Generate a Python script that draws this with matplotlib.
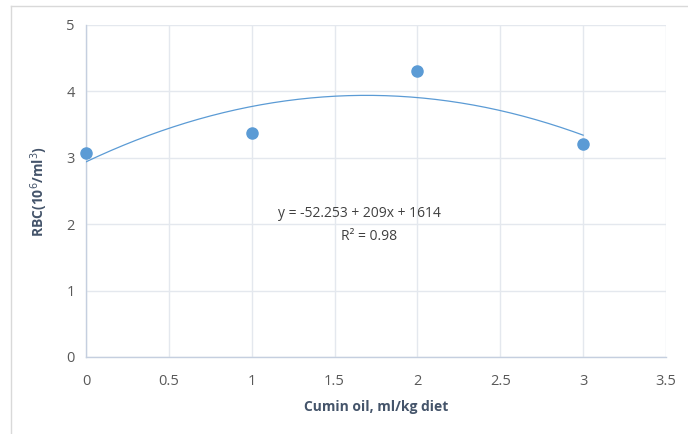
import matplotlib
matplotlib.use("Agg")
import matplotlib.pyplot as plt
import numpy as np
from matplotlib.lines import Line2D

x_vals = [0, 1, 2, 3]
rbc = [3.07, 3.38, 4.30, 3.21]
x_ticks = [0, 0.5, 1, 1.5, 2, 2.5, 3, 3.5]
y_ticks = [0, 1, 2, 3, 4, 5]
eq_text = "y = -52.253 + 209x + 1614"
r2_text = "R² = 0.98"

plt.rcParams['font.family'] = ['Open Sans', 'DejaVu Sans']

fig = plt.figure(figsize=(6.88, 4.34), dpi=100)
bx = 10.5 / 688
by = (434 - 5.5) / 434
fig.lines.append(Line2D([bx, bx], [0, by], transform=fig.transFigure, color='#d9d9d9', linewidth=1))
fig.lines.append(Line2D([bx, 1], [by, by], transform=fig.transFigure, color='#d9d9d9', linewidth=1))
ax = fig.add_axes([86/688, (434-357)/434, 580/688, 332/434])

blue = '#5b9bd5'
coef = np.polyfit(x_vals, rbc, 2)
xs = np.linspace(0, 3, 200)
ax.plot(xs, np.polyval(coef, xs), color=blue, linewidth=0.9, zorder=3)
ax.plot(x_vals, rbc, 'o', color=blue, markersize=8, zorder=4, clip_on=False)

ax.set_xlim(0, 3.5)
ax.set_ylim(0, 5)
ax.set_xticks(x_ticks)
ax.set_xticklabels([f"{t:g}" for t in x_ticks])
ax.set_yticks(y_ticks)
ax.grid(True, color='#e4e8ee', linewidth=1)
ax.set_axisbelow(True)
for s in ['top', 'right']:
    ax.spines[s].set_visible(False)
for s in ['left', 'bottom']:
    ax.spines[s].set_color('#c5cfdf')
    ax.spines[s].set_linewidth(1)
ax.tick_params(length=0, labelsize=10.5, colors='#595959', pad=12)
ax.tick_params(axis='y', pad=8)

ax.set_xlabel("Cumin oil, ml/kg diet", fontsize=10, fontweight='bold', color='#44546a', labelpad=8)
ax.set_ylabel("RBC(10$^{6}$/ml$^{3}$)", fontsize=10, fontweight='bold', color='#44546a', labelpad=12)

ax.text(1.65, 2.16, eq_text, ha='center', va='center', fontsize=10, color='#404040')
ax.text(1.71, 1.81, r2_text, ha='center', va='center', fontsize=10, color='#404040')

fig.savefig("out.png", dpi=100)
